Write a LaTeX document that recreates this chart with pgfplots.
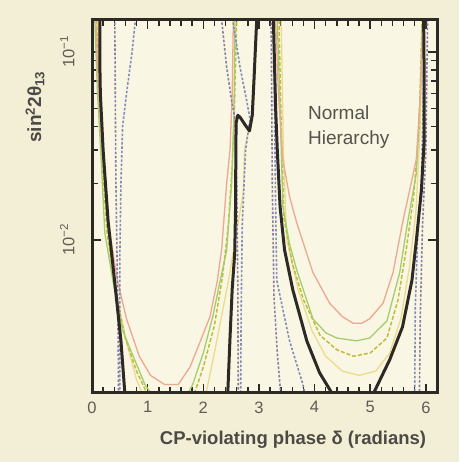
\documentclass[border=0pt]{standalone}
\usepackage{pgfplots}
\pgfplotsset{compat=1.18}
\usepackage{fontspec}
\setmainfont{Liberation Sans}
\usetikzlibrary{backgrounds}
\definecolor{paper}{RGB}{243,239,214}
\definecolor{inner}{RGB}{249,246,228}
\definecolor{frame}{RGB}{45,42,38}
\definecolor{txt}{RGB}{95,92,85}
\definecolor{salmon}{RGB}{236,168,145}
\definecolor{lgreen}{RGB}{165,205,110}
\definecolor{olive}{RGB}{190,190,60}
\definecolor{pyellow}{RGB}{235,220,140}
\definecolor{dpurple}{RGB}{140,125,160}
\definecolor{dblue}{RGB}{130,140,185}

\begin{document}
\begin{tikzpicture}
\begin{axis}[
    at={(0,0)}, anchor=south west,
    scale only axis, width=345pt, height=373pt,
    ymode=log,
    xmin=0, xmax=6.2, ymin=1.53e-3, ymax=0.148,
    axis line style={frame, line width=2.6pt},
    axis background/.style={fill=inner},
    xtick={0,...,6}, xticklabels={0,1,2,3,4,5,6},
    minor x tick num=4,
    ytick={0.01,0.1}, yticklabels={10\textsuperscript{−2},10\textsuperscript{−1}},
    tick align=inside,
    major tick length=9pt, minor tick length=6pt,
    tick style={frame, line width=1.5pt},
    tick label style={font=\fontsize{16.5}{18}\selectfont, text=txt},
    yticklabel style={rotate=90, anchor=south},
    xticklabel shift=5pt, yticklabel shift=14pt,
    clip mode=individual,
    every axis plot/.append style={line join=round},
]
% pale yellow
\addplot[pyellow, line width=1.3pt] coordinates {
(0.10,0.148) (0.15,0.05) (0.25,0.015) (0.4,0.006) (0.6,0.003) (0.8,0.0018) (1.0,0.0013)
(2.0,0.0013) (2.2,0.0025) (2.45,0.006) (2.62,0.012) (2.72,0.018) (2.74,0.03) (2.8,0.037) (2.9,0.05) (2.95,0.148)};
\addplot[pyellow, line width=1.3pt] coordinates {
(3.40,0.148) (3.44,0.03) (3.5,0.01) (3.7,0.0055) (3.95,0.0033) (4.2,0.0024) (4.5,0.002) (4.8,0.0019)
(5.1,0.002) (5.35,0.0025) (5.55,0.0038) (5.7,0.007) (5.82,0.014) (5.9,0.04) (5.94,0.148)};
% olive dashed
\addplot[olive, line width=1.5pt, dash pattern=on 4pt off 2pt] coordinates {
(0.08,0.148) (0.13,0.06) (0.2,0.022) (0.27,0.011) (0.42,0.0052) (0.6,0.003) (0.8,0.002) (1.0,0.0015) (1.2,0.0013)
(1.8,0.0014) (2.0,0.0021) (2.2,0.0035) (2.35,0.0065) (2.45,0.012) (2.52,0.025) (2.56,0.05) (2.6,0.148)};
\addplot[olive, line width=1.5pt, dash pattern=on 4pt off 2pt] coordinates {
(3.36,0.148) (3.40,0.04) (3.45,0.013) (3.6,0.0075) (3.8,0.0048) (4.1,0.0031) (4.4,0.0026) (4.7,0.0024)
(5.0,0.0025) (5.3,0.003) (5.5,0.0048) (5.65,0.009) (5.78,0.017) (5.88,0.04) (5.93,0.148)};
% green
\addplot[lgreen, line width=1.3pt] coordinates {
(0.05,0.148) (0.10,0.06) (0.17,0.025) (0.23,0.0109) (0.4,0.0055) (0.55,0.0033) (0.74,0.0024) (0.95,0.0017) (1.15,0.0014)
(1.6,0.0013) (1.81,0.0017) (2.0,0.0025) (2.17,0.0039) (2.3,0.006) (2.42,0.0088) (2.51,0.020) (2.55,0.045) (2.57,0.148)};
\addplot[lgreen, line width=1.3pt] coordinates {
(3.33,0.148) (3.38,0.05) (3.43,0.015) (3.55,0.0095) (3.68,0.0069) (3.97,0.0038) (4.2,0.0032) (4.40,0.0030) (4.75,0.0029)
(4.99,0.0030) (5.30,0.0037) (5.53,0.0067) (5.67,0.0123) (5.83,0.0227) (5.9,0.06) (5.94,0.148)};
% salmon
\addplot[salmon, line width=1.3pt] coordinates {
(0.07,0.148) (0.12,0.06) (0.2,0.025) (0.3,0.012) (0.45,0.0062) (0.62,0.0038) (0.85,0.0024) (1.05,0.0019) (1.3,0.0017)
(1.55,0.0017) (1.76,0.0021) (1.95,0.0029) (2.12,0.0039) (2.25,0.006) (2.33,0.0089) (2.42,0.020) (2.48,0.030) (2.52,0.06) (2.54,0.148)};
\addplot[salmon, line width=1.3pt] coordinates {
(3.30,0.148) (3.35,0.06) (3.43,0.0267) (3.55,0.017) (3.68,0.0123) (3.97,0.0067) (4.27,0.0046) (4.50,0.0039) (4.69,0.0036)
(4.85,0.0036) (4.99,0.0038) (5.23,0.0046) (5.41,0.0067) (5.58,0.0123) (5.72,0.019) (5.83,0.027) (5.90,0.06) (5.95,0.148)};
% dashed purple / blue
\addplot[dpurple, line width=1.6pt, dash pattern=on 2.5pt off 1.8pt] coordinates {
(0.40,0.3) (0.41,0.148) (0.42,0.05) (0.43,0.02) (0.45,0.008) (0.47,0.003) (0.48,0.0012)};
\addplot[dblue, line width=1.6pt, dash pattern=on 2.5pt off 1.8pt] coordinates {
(0.82,0.3) (0.78,0.148) (0.72,0.1) (0.62,0.06) (0.55,0.04) (0.52,0.02) (0.50,0.008) (0.50,0.003) (0.50,0.0012)};
\addplot[dpurple, line width=1.6pt, dash pattern=on 2.5pt off 1.8pt] coordinates {
(2.30,0.3) (2.33,0.148) (2.42,0.083) (2.51,0.055) (2.57,0.044) (2.60,0.02) (2.62,0.006) (2.63,0.0012)};
\addplot[dblue, line width=1.6pt, dash pattern=on 2.5pt off 1.8pt] coordinates {
(2.48,0.3) (2.53,0.148) (2.66,0.083) (2.78,0.055) (2.84,0.044) (2.76,0.03) (2.70,0.012) (2.68,0.004) (2.67,0.0012)};
\addplot[dpurple, line width=1.6pt, dash pattern=on 2.5pt off 1.8pt] coordinates {
(3.20,0.3) (3.22,0.148) (3.24,0.02) (3.27,0.005) (3.33,0.0025) (3.42,0.0012)};
\addplot[dblue, line width=1.6pt, dash pattern=on 2.5pt off 1.8pt] coordinates {
(3.24,0.3) (3.26,0.148) (3.28,0.05) (3.30,0.015) (3.32,0.0061) (3.45,0.0040) (3.55,0.0029) (3.79,0.0017) (3.9,0.0012)};
\addplot[dblue, line width=1.6pt, dash pattern=on 2.5pt off 1.8pt] coordinates {
(5.78,0.0012) (5.80,0.0016) (5.81,0.0044) (5.85,0.01) (5.92,0.02) (5.95,0.05) (5.97,0.148) (5.98,0.3)};
\addplot[dpurple, line width=1.6pt, dash pattern=on 2.5pt off 1.8pt] coordinates {
(5.88,0.0012) (5.90,0.004) (5.94,0.012) (6.0,0.03) (6.03,0.148) (6.04,0.3)};
% black
\addplot[frame, line width=3pt] coordinates {
(0.13,0.3) (0.14,0.148) (0.14,0.09) (0.15,0.06) (0.20,0.030) (0.29,0.0125) (0.41,0.0059) (0.52,0.0029) (0.59,0.00153) (0.61,0.0012)};
\addplot[frame, line width=3pt] coordinates {
(2.42,0.0012) (2.44,0.00153) (2.48,0.003) (2.52,0.0055) (2.565,0.0085) (2.58,0.015) (2.585,0.03) (2.59,0.042) (2.62,0.046)
(2.66,0.045) (2.75,0.041) (2.83,0.038) (2.88,0.046) (2.91,0.07) (2.94,0.11) (2.96,0.148) (2.97,0.3)};
\addplot[frame, line width=3pt] coordinates {
(3.25,0.3) (3.26,0.148) (3.30,0.05) (3.33,0.03) (3.38,0.015) (3.46,0.00885) (3.61,0.0054) (3.86,0.0029) (4.09,0.00196) (4.31,0.00153) (4.4,0.0012)};
\addplot[frame, line width=3pt] coordinates {
(5.0,0.0012) (5.08,0.00157) (5.35,0.0023) (5.58,0.00344) (5.75,0.0061) (5.83,0.010) (5.92,0.0184) (5.97,0.034) (5.97,0.07) (5.96,0.148) (5.96,0.3)};
\node[anchor=north west, align=left, inner sep=0pt, text=txt!90!black,
      font=\fontsize{19}{25}\selectfont] at (axis cs:3.88,0.0516) {Normal\\Hierarchy};
\end{axis}
\draw[frame, line width=3pt] (0,0) rectangle (345pt,373pt);
\node[rotate=90, text=txt!80!black, font=\bfseries\fontsize{19}{20}\selectfont] at (-57pt,286pt)
  {sin\textsuperscript{2}2θ\textsubscript{13}};
\node[text=txt!80!black, font=\bfseries\fontsize{18.5}{20}\selectfont] at (201pt,-47pt)
  {CP-violating phase δ (radians)};
\begin{scope}[on background layer]
\fill[paper] (-92pt,-69pt) rectangle (367pt,393pt);
\end{scope}
\pgfresetboundingbox
\useasboundingbox (-92pt,-69pt) rectangle (367pt,393pt);
\end{tikzpicture}
\end{document}
